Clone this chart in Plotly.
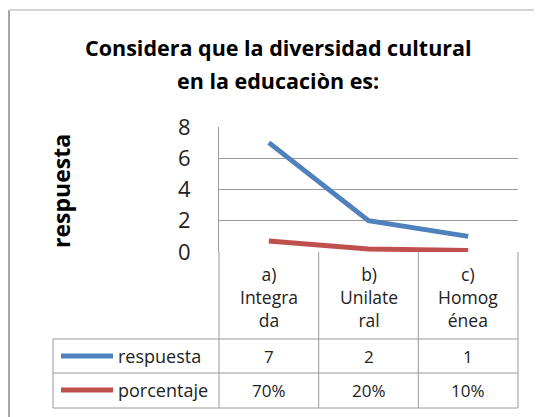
import plotly.graph_objects as go

# ---- data ----
categories = ["a)<br>Integra<br>da", "b)<br>Unilate<br>ral", "c)<br>Homog<br>énea"]
respuesta = [7, 2, 1]
porcentaje = [0.70, 0.20, 0.10]
series_names = ["respuesta", "porcentaje"]
title_lines = ["Considera que la diversidad cultural", "en la educaciòn es:"]
y_title = "respuesta"
y_ticks = [0, 2, 4, 6, 8]

# ---- style ----
OFF = 8                      # page body margin of the browser
W, H = 542 - OFF, 417 - OFF
# plot area, in screen pixels
SL, SR, ST, SB = 219, 518, 127, 252
FONT = "Open Sans"
BLUE, RED = "#4F81BD", "#C0504D"
GRID = "#9a9a9a"
TXT = "#222"


def px(x):
    return (x - SL) / (SR - SL)


def py(y):
    return (SB - y) / (SB - ST)


x_idx = list(range(len(categories)))
fig = go.Figure()
fig.add_trace(go.Scatter(x=x_idx, y=respuesta, mode="lines", name=series_names[0],
                         line=dict(color=BLUE, width=5), showlegend=False))
fig.add_trace(go.Scatter(x=x_idx, y=porcentaje, mode="lines", name=series_names[1],
                         line=dict(color=RED, width=5), showlegend=False))

shapes = []
def line(x0, y0, x1, y1, color=GRID, width=1):
    shapes.append(dict(type="line", xref="paper", yref="paper",
                       x0=px(x0), y0=py(y0), x1=px(x1), y1=py(y1),
                       line=dict(color=color, width=width), layer="above"))

# outer chart border
line(9, 10, 9, 430, color="#a6a6a6", width=2)
line(9, 10, 560, 10, color="#d4d4d4", width=2)

# category cells + table
col_edges = [SL + (SR - SL) * i / len(categories) for i in range(len(categories) + 1)]
for xe in col_edges:
    line(xe, SB, xe, 408)
line(53, 339, 53, 408)
for ye in [339, 373, 408]:
    line(53, ye, SR, ye)

# legend keys in table
row_y = [356, 390]
for c, ry in zip([BLUE, RED], row_y):
    shapes.append(dict(type="line", xref="paper", yref="paper",
                       x0=px(61), y0=py(ry), x1=px(113), y1=py(ry),
                       line=dict(color=c, width=5), layer="above"))

ann = []
# title
for i, t in enumerate(title_lines):
    ann.append(dict(text="<b>" + t + "</b>", xref="paper", yref="paper",
                    x=px(278), y=py([47, 81][i]), showarrow=False,
                    xanchor="center", yanchor="middle",
                    font=dict(family=FONT, size=21.5, color="#000")))
# y title
ann.append(dict(text="<b>" + y_title + "</b>", xref="paper", yref="paper",
                x=px(61), y=py(191), showarrow=False, textangle=-90,
                xanchor="center", yanchor="middle",
                font=dict(family=FONT, size=23, color="#000")))
# category labels
for i, c in enumerate(categories):
    ann.append(dict(text=c, xref="x", yref="paper", x=i, y=py(260),
                    showarrow=False, xanchor="center", yanchor="top",
                    font=dict(family=FONT, size=17.5, color=TXT)))
# table row labels & values
value_rows = [[str(v) for v in respuesta], [f"{round(p * 100)}%" for p in porcentaje]]
for name, vals, ry in zip(series_names, value_rows, row_y):
    ann.append(dict(text=name, xref="paper", yref="paper", x=px(116), y=py(ry),
                    showarrow=False, xanchor="left", yanchor="middle",
                    font=dict(family=FONT, size=18, color=TXT)))
    for i, v in enumerate(vals):
        ann.append(dict(text=v, xref="x", yref="paper", x=i, y=py(ry),
                        showarrow=False, xanchor="center", yanchor="middle",
                        font=dict(family=FONT, size=17, color=TXT)))

fig.update_layout(
    width=W, height=H,
    margin=dict(l=SL - OFF, r=W - (SR - OFF), t=ST - OFF, b=H - (SB - OFF), pad=0),
    paper_bgcolor="white", plot_bgcolor="white",
    shapes=shapes, annotations=ann,
    xaxis=dict(range=[-0.5, len(categories) - 0.5], showticklabels=False,
               showgrid=False, zeroline=False, showline=False, fixedrange=True),
    yaxis=dict(range=[0, 8], tickvals=y_ticks, showgrid=True, gridcolor=GRID,
               gridwidth=1, zeroline=False, showline=True, linecolor=GRID,
               linewidth=1, ticks="", ticklabelstandoff=23,
               tickfont=dict(family=FONT, size=22, color=TXT)),
)
fig.write_html("out.html")
